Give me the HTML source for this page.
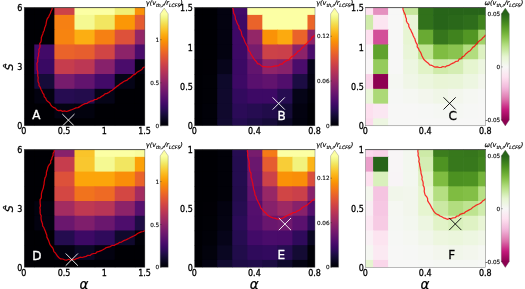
<!DOCTYPE html>
<html><head><meta charset="utf-8"><title>figure</title>
<style>html,body{margin:0;padding:0;background:#fff;}svg{display:block;filter:blur(0.3px)}text{font-family:"DejaVu Sans","Liberation Sans",sans-serif;fill:#000}.t{font-size:8.0px;stroke:#000;stroke-width:0.28px}.c{font-size:5.7px;stroke:#000;stroke-width:0.12px}.ti{font-size:6.5px;font-style:italic;stroke:#000;stroke-width:0.18px}.lab{font-size:12px}.ax{font-style:italic;stroke:#000;stroke-width:0.25px}</style></head><body>
<svg width="525" height="289" viewBox="0 0 525 289">
<rect width="525" height="289" fill="#fff"/>
<defs>
<linearGradient id="gi" x1="0" y1="1" x2="0" y2="0"><stop offset="0.0000" stop-color="#000004"/><stop offset="0.0417" stop-color="#050417"/><stop offset="0.0833" stop-color="#110a30"/><stop offset="0.1250" stop-color="#210c4a"/><stop offset="0.1667" stop-color="#320a5e"/><stop offset="0.2083" stop-color="#450a69"/><stop offset="0.2500" stop-color="#57106e"/><stop offset="0.2917" stop-color="#67166e"/><stop offset="0.3333" stop-color="#781c6d"/><stop offset="0.3750" stop-color="#8a226a"/><stop offset="0.4167" stop-color="#9a2865"/><stop offset="0.4583" stop-color="#ab2f5e"/><stop offset="0.5000" stop-color="#bc3754"/><stop offset="0.5417" stop-color="#ca404a"/><stop offset="0.5833" stop-color="#d84c3e"/><stop offset="0.6250" stop-color="#e45a31"/><stop offset="0.6667" stop-color="#ed6925"/><stop offset="0.7083" stop-color="#f57b17"/><stop offset="0.7500" stop-color="#f98e09"/><stop offset="0.7917" stop-color="#fca108"/><stop offset="0.8333" stop-color="#fbb61a"/><stop offset="0.8750" stop-color="#f9cb35"/><stop offset="0.9167" stop-color="#f4df53"/><stop offset="0.9583" stop-color="#f2f27d"/><stop offset="1.0000" stop-color="#fcffa4"/></linearGradient>
<linearGradient id="gp" x1="0" y1="1" x2="0" y2="0"><stop offset="0.0000" stop-color="#8e0152"/><stop offset="0.0417" stop-color="#a40b63"/><stop offset="0.0833" stop-color="#bb1675"/><stop offset="0.1250" stop-color="#cb3289"/><stop offset="0.1667" stop-color="#d5579d"/><stop offset="0.2083" stop-color="#df7cb1"/><stop offset="0.2500" stop-color="#e897c4"/><stop offset="0.2917" stop-color="#efb0d6"/><stop offset="0.3333" stop-color="#f5c4e1"/><stop offset="0.3750" stop-color="#fad6ea"/><stop offset="0.4167" stop-color="#fce4f0"/><stop offset="0.4583" stop-color="#f9eef4"/><stop offset="0.5000" stop-color="#f7f7f6"/><stop offset="0.5417" stop-color="#f0f6e7"/><stop offset="0.5833" stop-color="#e9f5d6"/><stop offset="0.6250" stop-color="#d9f0bc"/><stop offset="0.6667" stop-color="#c7e89f"/><stop offset="0.7083" stop-color="#b2dd7f"/><stop offset="0.7500" stop-color="#9acd61"/><stop offset="0.7917" stop-color="#83bf46"/><stop offset="0.8333" stop-color="#6dad36"/><stop offset="0.8750" stop-color="#589b28"/><stop offset="0.9167" stop-color="#468a20"/><stop offset="0.9583" stop-color="#36761c"/><stop offset="1.0000" stop-color="#276419"/></linearGradient>
<clipPath id="clA"><rect x="24.2" y="7.5" width="120.70" height="118.30"/></clipPath>
<clipPath id="clB"><rect x="194.6" y="7.5" width="120.40" height="118.30"/></clipPath>
<clipPath id="clC"><rect x="365.6" y="7.5" width="120.10" height="118.30"/></clipPath>
<clipPath id="clD"><rect x="24.2" y="149.5" width="120.70" height="117.80"/></clipPath>
<clipPath id="clE"><rect x="194.6" y="149.5" width="120.40" height="117.80"/></clipPath>
<clipPath id="clF"><rect x="365.6" y="149.5" width="120.10" height="117.80"/></clipPath>
</defs>
<g clip-path="url(#clA)">
<rect x="24.2" y="7.5" width="120.70" height="118.30" fill="#000004"/>
<rect x="14.14" y="0.11" width="20.82" height="15.49" fill="#000004"/>
<rect x="34.26" y="0.11" width="20.82" height="15.49" fill="#000004"/>
<rect x="54.38" y="0.11" width="20.82" height="15.49" fill="#cc4248"/>
<rect x="74.49" y="0.11" width="20.82" height="15.49" fill="#fcffa4"/>
<rect x="94.61" y="0.11" width="20.82" height="15.49" fill="#fcffa4"/>
<rect x="114.73" y="0.11" width="20.82" height="15.49" fill="#f1ef75"/>
<rect x="134.84" y="0.11" width="20.82" height="15.49" fill="#fa9207"/>
<rect x="14.14" y="14.89" width="20.82" height="15.49" fill="#000004"/>
<rect x="34.26" y="14.89" width="20.82" height="15.49" fill="#000004"/>
<rect x="54.38" y="14.89" width="20.82" height="15.49" fill="#f68013"/>
<rect x="74.49" y="14.89" width="20.82" height="15.49" fill="#f5f992"/>
<rect x="94.61" y="14.89" width="20.82" height="15.49" fill="#f2e661"/>
<rect x="114.73" y="14.89" width="20.82" height="15.49" fill="#fb9706"/>
<rect x="134.84" y="14.89" width="20.82" height="15.49" fill="#e55c30"/>
<rect x="14.14" y="29.68" width="20.82" height="15.49" fill="#000004"/>
<rect x="34.26" y="29.68" width="20.82" height="15.49" fill="#000004"/>
<rect x="54.38" y="29.68" width="20.82" height="15.49" fill="#f78410"/>
<rect x="74.49" y="29.68" width="20.82" height="15.49" fill="#fcae12"/>
<rect x="94.61" y="29.68" width="20.82" height="15.49" fill="#f68013"/>
<rect x="114.73" y="29.68" width="20.82" height="15.49" fill="#dd513a"/>
<rect x="134.84" y="29.68" width="20.82" height="15.49" fill="#932667"/>
<rect x="14.14" y="44.47" width="20.82" height="15.49" fill="#000004"/>
<rect x="34.26" y="44.47" width="20.82" height="15.49" fill="#420a68"/>
<rect x="54.38" y="44.47" width="20.82" height="15.49" fill="#ea632a"/>
<rect x="74.49" y="44.47" width="20.82" height="15.49" fill="#e75e2e"/>
<rect x="94.61" y="44.47" width="20.82" height="15.49" fill="#d04545"/>
<rect x="114.73" y="44.47" width="20.82" height="15.49" fill="#8c2369"/>
<rect x="134.84" y="44.47" width="20.82" height="15.49" fill="#4a0c6b"/>
<rect x="14.14" y="59.26" width="20.82" height="15.49" fill="#000004"/>
<rect x="34.26" y="59.26" width="20.82" height="15.49" fill="#390963"/>
<rect x="54.38" y="59.26" width="20.82" height="15.49" fill="#c63d4d"/>
<rect x="74.49" y="59.26" width="20.82" height="15.49" fill="#bc3754"/>
<rect x="94.61" y="59.26" width="20.82" height="15.49" fill="#87216b"/>
<rect x="114.73" y="59.26" width="20.82" height="15.49" fill="#4a0c6b"/>
<rect x="134.84" y="59.26" width="20.82" height="15.49" fill="#030210"/>
<rect x="14.14" y="74.04" width="20.82" height="15.49" fill="#000004"/>
<rect x="34.26" y="74.04" width="20.82" height="15.49" fill="#160b39"/>
<rect x="54.38" y="74.04" width="20.82" height="15.49" fill="#771c6d"/>
<rect x="74.49" y="74.04" width="20.82" height="15.49" fill="#62146e"/>
<rect x="94.61" y="74.04" width="20.82" height="15.49" fill="#420a68"/>
<rect x="114.73" y="74.04" width="20.82" height="15.49" fill="#050417"/>
<rect x="134.84" y="74.04" width="20.82" height="15.49" fill="#000004"/>
<rect x="14.14" y="88.83" width="20.82" height="15.49" fill="#000004"/>
<rect x="34.26" y="88.83" width="20.82" height="15.49" fill="#030210"/>
<rect x="54.38" y="88.83" width="20.82" height="15.49" fill="#260c51"/>
<rect x="74.49" y="88.83" width="20.82" height="15.49" fill="#230c4c"/>
<rect x="94.61" y="88.83" width="20.82" height="15.49" fill="#050417"/>
<rect x="114.73" y="88.83" width="20.82" height="15.49" fill="#000004"/>
<rect x="134.84" y="88.83" width="20.82" height="15.49" fill="#000004"/>
<rect x="14.14" y="103.62" width="20.82" height="15.49" fill="#000004"/>
<rect x="34.26" y="103.62" width="20.82" height="15.49" fill="#000004"/>
<rect x="54.38" y="103.62" width="20.82" height="15.49" fill="#040312"/>
<rect x="74.49" y="103.62" width="20.82" height="15.49" fill="#02020e"/>
<rect x="94.61" y="103.62" width="20.82" height="15.49" fill="#000004"/>
<rect x="114.73" y="103.62" width="20.82" height="15.49" fill="#000004"/>
<rect x="134.84" y="103.62" width="20.82" height="15.49" fill="#000004"/>
<rect x="14.14" y="118.41" width="20.82" height="15.49" fill="#000004"/>
<rect x="34.26" y="118.41" width="20.82" height="15.49" fill="#000004"/>
<rect x="54.38" y="118.41" width="20.82" height="15.49" fill="#000004"/>
<rect x="74.49" y="118.41" width="20.82" height="15.49" fill="#000004"/>
<rect x="94.61" y="118.41" width="20.82" height="15.49" fill="#000004"/>
<rect x="114.73" y="118.41" width="20.82" height="15.49" fill="#000004"/>
<rect x="134.84" y="118.41" width="20.82" height="15.49" fill="#000004"/>
<polyline points="52.3,7.4 52.0,9.5 51.0,11.2 50.4,13.2 49.4,15.0 48.7,16.8 47.4,18.5 46.7,20.3 46.3,22.3 46.0,24.4 45.4,26.3 44.6,28.1 44.3,30.2 43.3,32.0 42.8,33.9 42.0,35.8 41.3,37.7 41.3,39.8 40.9,41.8 39.7,43.6 40.1,45.7 39.8,47.7 38.8,49.5 39.1,51.6 38.5,53.6 38.6,55.6 37.9,57.6 37.7,59.6 37.8,61.6 36.9,63.6 37.1,65.6 37.1,67.6 37.1,69.6 37.7,71.6 37.8,73.6 37.7,75.7 38.2,77.6 38.0,79.7 38.1,81.7 39.0,83.6 39.0,85.7 40.3,87.4 40.9,89.3 41.9,91.0 42.6,92.9 43.9,94.5 44.2,96.7 45.7,98.1 46.4,100.1 47.8,101.6 49.5,102.7 50.6,104.5 51.8,106.1 53.3,107.4 55.3,108.1 56.6,109.7 58.4,110.6 60.6,110.3 62.4,111.4 64.5,110.8 66.5,111.5 68.5,110.8 70.4,110.2 72.3,109.5 74.1,108.7 75.9,107.9 78.0,107.6 79.8,106.6 81.5,105.4 83.2,104.5 85.0,103.6 87.1,103.3 88.8,102.1 90.6,101.2 92.7,100.9 94.3,99.7 96.5,99.5 98.1,98.2 100.1,97.6 101.7,96.3 103.5,95.4 104.9,93.9 107.0,93.4 108.8,92.5 110.3,91.2 112.2,90.3 113.7,89.0 115.2,87.7 116.8,86.4 118.5,85.4 120.0,84.0 121.8,82.9 123.4,81.7 125.2,80.8 127.2,80.1 128.6,78.6 130.4,77.7 131.9,76.3 133.4,74.9 135.3,74.1 136.7,72.6 138.4,71.5 140.2,70.5 141.9,69.5 143.1,67.7 145.0,66.9" fill="none" stroke="#ff0008" stroke-opacity="0.82" stroke-width="1.25" stroke-linejoin="round"/>
<path d="M62.3 114.0L74.5 126.2M62.3 126.2L74.5 114.0" stroke="#fff" stroke-width="0.9" fill="none"/>
</g>
<rect x="24.2" y="7.5" width="120.70" height="118.30" fill="none" stroke="#666" stroke-width="0.45"/>
<path d="M24.0 7.6H145.1" stroke="#444" stroke-width="0.8" fill="none"/>
<text class="lab" x="36.4" y="118.8" text-anchor="middle" style="fill:#fff;stroke:#fff;stroke-width:0.3px">A</text>
<g clip-path="url(#clB)">
<rect x="194.6" y="7.5" width="120.40" height="118.30" fill="#000004"/>
<rect x="187.07" y="0.11" width="15.75" height="15.49" fill="#000004"/>
<rect x="202.12" y="0.11" width="15.75" height="15.49" fill="#000004"/>
<rect x="217.18" y="0.11" width="15.75" height="15.49" fill="#030210"/>
<rect x="232.22" y="0.11" width="15.75" height="15.49" fill="#420a68"/>
<rect x="247.28" y="0.11" width="15.75" height="15.49" fill="#fcffa4"/>
<rect x="262.32" y="0.11" width="15.75" height="15.49" fill="#fcffa4"/>
<rect x="277.38" y="0.11" width="15.75" height="15.49" fill="#fcffa4"/>
<rect x="292.43" y="0.11" width="15.75" height="15.49" fill="#fcffa4"/>
<rect x="307.48" y="0.11" width="15.75" height="15.49" fill="#fcffa4"/>
<rect x="187.07" y="14.89" width="15.75" height="15.49" fill="#000004"/>
<rect x="202.12" y="14.89" width="15.75" height="15.49" fill="#000004"/>
<rect x="217.18" y="14.89" width="15.75" height="15.49" fill="#030210"/>
<rect x="232.22" y="14.89" width="15.75" height="15.49" fill="#3d0965"/>
<rect x="247.28" y="14.89" width="15.75" height="15.49" fill="#ea632a"/>
<rect x="262.32" y="14.89" width="15.75" height="15.49" fill="#fcffa4"/>
<rect x="277.38" y="14.89" width="15.75" height="15.49" fill="#fcffa4"/>
<rect x="292.43" y="14.89" width="15.75" height="15.49" fill="#fcffa4"/>
<rect x="307.48" y="14.89" width="15.75" height="15.49" fill="#eb6628"/>
<rect x="187.07" y="29.68" width="15.75" height="15.49" fill="#000004"/>
<rect x="202.12" y="29.68" width="15.75" height="15.49" fill="#000004"/>
<rect x="217.18" y="29.68" width="15.75" height="15.49" fill="#030210"/>
<rect x="232.22" y="29.68" width="15.75" height="15.49" fill="#3e0966"/>
<rect x="247.28" y="29.68" width="15.75" height="15.49" fill="#932667"/>
<rect x="262.32" y="29.68" width="15.75" height="15.49" fill="#fa9207"/>
<rect x="277.38" y="29.68" width="15.75" height="15.49" fill="#fcaa0f"/>
<rect x="292.43" y="29.68" width="15.75" height="15.49" fill="#ea632a"/>
<rect x="307.48" y="29.68" width="15.75" height="15.49" fill="#8c2369"/>
<rect x="187.07" y="44.47" width="15.75" height="15.49" fill="#000004"/>
<rect x="202.12" y="44.47" width="15.75" height="15.49" fill="#000004"/>
<rect x="217.18" y="44.47" width="15.75" height="15.49" fill="#030210"/>
<rect x="232.22" y="44.47" width="15.75" height="15.49" fill="#3d0965"/>
<rect x="247.28" y="44.47" width="15.75" height="15.49" fill="#771c6d"/>
<rect x="262.32" y="44.47" width="15.75" height="15.49" fill="#cc4248"/>
<rect x="277.38" y="44.47" width="15.75" height="15.49" fill="#ca404a"/>
<rect x="292.43" y="44.47" width="15.75" height="15.49" fill="#8c2369"/>
<rect x="307.48" y="44.47" width="15.75" height="15.49" fill="#4a0c6b"/>
<rect x="187.07" y="59.26" width="15.75" height="15.49" fill="#000004"/>
<rect x="202.12" y="59.26" width="15.75" height="15.49" fill="#010005"/>
<rect x="217.18" y="59.26" width="15.75" height="15.49" fill="#07051b"/>
<rect x="232.22" y="59.26" width="15.75" height="15.49" fill="#3b0964"/>
<rect x="247.28" y="59.26" width="15.75" height="15.49" fill="#62146e"/>
<rect x="262.32" y="59.26" width="15.75" height="15.49" fill="#8f2469"/>
<rect x="277.38" y="59.26" width="15.75" height="15.49" fill="#87216b"/>
<rect x="292.43" y="59.26" width="15.75" height="15.49" fill="#4a0c6b"/>
<rect x="307.48" y="59.26" width="15.75" height="15.49" fill="#060419"/>
<rect x="187.07" y="74.04" width="15.75" height="15.49" fill="#000004"/>
<rect x="202.12" y="74.04" width="15.75" height="15.49" fill="#010106"/>
<rect x="217.18" y="74.04" width="15.75" height="15.49" fill="#0e092b"/>
<rect x="232.22" y="74.04" width="15.75" height="15.49" fill="#3d0965"/>
<rect x="247.28" y="74.04" width="15.75" height="15.49" fill="#59106e"/>
<rect x="262.32" y="74.04" width="15.75" height="15.49" fill="#61136e"/>
<rect x="277.38" y="74.04" width="15.75" height="15.49" fill="#510e6c"/>
<rect x="292.43" y="74.04" width="15.75" height="15.49" fill="#1c0c43"/>
<rect x="307.48" y="74.04" width="15.75" height="15.49" fill="#040312"/>
<rect x="187.07" y="88.83" width="15.75" height="15.49" fill="#000004"/>
<rect x="202.12" y="88.83" width="15.75" height="15.49" fill="#010106"/>
<rect x="217.18" y="88.83" width="15.75" height="15.49" fill="#10092d"/>
<rect x="232.22" y="88.83" width="15.75" height="15.49" fill="#320a5e"/>
<rect x="247.28" y="88.83" width="15.75" height="15.49" fill="#3d0965"/>
<rect x="262.32" y="88.83" width="15.75" height="15.49" fill="#3d0965"/>
<rect x="277.38" y="88.83" width="15.75" height="15.49" fill="#260c51"/>
<rect x="292.43" y="88.83" width="15.75" height="15.49" fill="#050417"/>
<rect x="307.48" y="88.83" width="15.75" height="15.49" fill="#010108"/>
<rect x="187.07" y="103.62" width="15.75" height="15.49" fill="#000004"/>
<rect x="202.12" y="103.62" width="15.75" height="15.49" fill="#010108"/>
<rect x="217.18" y="103.62" width="15.75" height="15.49" fill="#10092d"/>
<rect x="232.22" y="103.62" width="15.75" height="15.49" fill="#2b0b57"/>
<rect x="247.28" y="103.62" width="15.75" height="15.49" fill="#260c51"/>
<rect x="262.32" y="103.62" width="15.75" height="15.49" fill="#210c4a"/>
<rect x="277.38" y="103.62" width="15.75" height="15.49" fill="#150b37"/>
<rect x="292.43" y="103.62" width="15.75" height="15.49" fill="#030210"/>
<rect x="307.48" y="103.62" width="15.75" height="15.49" fill="#000004"/>
<rect x="187.07" y="118.41" width="15.75" height="15.49" fill="#000004"/>
<rect x="202.12" y="118.41" width="15.75" height="15.49" fill="#010108"/>
<rect x="217.18" y="118.41" width="15.75" height="15.49" fill="#110a30"/>
<rect x="232.22" y="118.41" width="15.75" height="15.49" fill="#240c4f"/>
<rect x="247.28" y="118.41" width="15.75" height="15.49" fill="#1c0c43"/>
<rect x="262.32" y="118.41" width="15.75" height="15.49" fill="#160b39"/>
<rect x="277.38" y="118.41" width="15.75" height="15.49" fill="#0b0724"/>
<rect x="292.43" y="118.41" width="15.75" height="15.49" fill="#02020e"/>
<rect x="307.48" y="118.41" width="15.75" height="15.49" fill="#000004"/>
<polyline points="232.3,7.4 233.2,9.2 233.4,11.2 233.7,13.3 234.7,15.0 235.3,16.9 235.4,19.0 236.3,20.8 237.0,22.7 237.8,24.5 238.9,26.2 239.0,28.4 240.3,30.0 241.3,31.7 241.5,33.8 242.1,35.8 243.2,37.5 244.0,39.3 244.7,41.2 245.5,43.0 246.5,44.8 247.5,46.5 248.2,48.4 248.4,50.5 250.0,51.9 250.7,53.8 251.8,55.5 252.8,57.2 253.9,58.8 255.1,60.3 256.5,61.7 257.5,63.6 259.5,64.1 261.0,65.4 262.7,66.6 264.8,66.5 266.7,67.0 268.7,66.8 270.6,67.0 272.6,66.6 274.5,66.1 276.5,65.9 278.5,65.7 280.0,64.1 282.2,64.1 283.6,62.4 285.3,61.4 287.0,60.4 289.1,59.9 290.3,58.1 291.7,56.7 293.7,56.0 295.0,54.4 296.6,53.2 297.7,51.4 299.6,50.6 301.0,49.1 302.3,47.5 303.9,46.4 305.1,44.7 306.8,43.6 307.9,41.9 309.6,40.7 311.1,39.4 311.9,37.4 313.7,36.3 315.0,34.8" fill="none" stroke="#ff0008" stroke-opacity="0.82" stroke-width="1.25" stroke-linejoin="round"/>
<path d="M272.6 97.4L284.8 109.6M272.6 109.6L284.8 97.4" stroke="#fff" stroke-width="0.9" fill="none"/>
</g>
<rect x="194.6" y="7.5" width="120.40" height="118.30" fill="none" stroke="#666" stroke-width="0.45"/>
<path d="M194.4 7.6H315.2" stroke="#444" stroke-width="0.8" fill="none"/>
<text class="lab" x="281.7" y="120.3" text-anchor="middle" style="fill:#fff;stroke:#fff;stroke-width:0.3px">B</text>
<g clip-path="url(#clC)">
<rect x="365.6" y="7.5" width="120.10" height="118.30" fill="#f7f7f6"/>
<rect x="358.09" y="0.11" width="15.71" height="15.49" fill="#fde2f0"/>
<rect x="373.11" y="0.11" width="15.71" height="15.49" fill="#e590bf"/>
<rect x="388.12" y="0.11" width="15.71" height="15.49" fill="#f7f7f6"/>
<rect x="403.13" y="0.11" width="15.71" height="15.49" fill="#c6e79c"/>
<rect x="418.14" y="0.11" width="15.71" height="15.49" fill="#31711b"/>
<rect x="433.16" y="0.11" width="15.71" height="15.49" fill="#276419"/>
<rect x="448.17" y="0.11" width="15.71" height="15.49" fill="#276419"/>
<rect x="463.18" y="0.11" width="15.71" height="15.49" fill="#276419"/>
<rect x="478.19" y="0.11" width="15.71" height="15.49" fill="#276419"/>
<rect x="358.09" y="14.89" width="15.71" height="15.49" fill="#cfebaa"/>
<rect x="373.11" y="14.89" width="15.71" height="15.49" fill="#fce5f1"/>
<rect x="388.12" y="14.89" width="15.71" height="15.49" fill="#f7f7f6"/>
<rect x="403.13" y="14.89" width="15.71" height="15.49" fill="#e9f5d8"/>
<rect x="418.14" y="14.89" width="15.71" height="15.49" fill="#31711b"/>
<rect x="433.16" y="14.89" width="15.71" height="15.49" fill="#276419"/>
<rect x="448.17" y="14.89" width="15.71" height="15.49" fill="#2a681a"/>
<rect x="463.18" y="14.89" width="15.71" height="15.49" fill="#2e6d1b"/>
<rect x="478.19" y="14.89" width="15.71" height="15.49" fill="#40831e"/>
<rect x="358.09" y="29.68" width="15.71" height="15.49" fill="#fde0ef"/>
<rect x="373.11" y="29.68" width="15.71" height="15.49" fill="#d34f99"/>
<rect x="388.12" y="29.68" width="15.71" height="15.49" fill="#f7f7f6"/>
<rect x="403.13" y="29.68" width="15.71" height="15.49" fill="#e7f5d3"/>
<rect x="418.14" y="29.68" width="15.71" height="15.49" fill="#69aa33"/>
<rect x="433.16" y="29.68" width="15.71" height="15.49" fill="#36761c"/>
<rect x="448.17" y="29.68" width="15.71" height="15.49" fill="#40831e"/>
<rect x="463.18" y="29.68" width="15.71" height="15.49" fill="#529624"/>
<rect x="478.19" y="29.68" width="15.71" height="15.49" fill="#a1d26a"/>
<rect x="358.09" y="44.47" width="15.71" height="15.49" fill="#f8f2f5"/>
<rect x="373.11" y="44.47" width="15.71" height="15.49" fill="#60a22d"/>
<rect x="388.12" y="44.47" width="15.71" height="15.49" fill="#f7f7f6"/>
<rect x="403.13" y="44.47" width="15.71" height="15.49" fill="#e9f5d8"/>
<rect x="418.14" y="44.47" width="15.71" height="15.49" fill="#c0e593"/>
<rect x="433.16" y="44.47" width="15.71" height="15.49" fill="#7fbc41"/>
<rect x="448.17" y="44.47" width="15.71" height="15.49" fill="#8ac34f"/>
<rect x="463.18" y="44.47" width="15.71" height="15.49" fill="#b2dd7f"/>
<rect x="478.19" y="44.47" width="15.71" height="15.49" fill="#ddf1c1"/>
<rect x="358.09" y="59.26" width="15.71" height="15.49" fill="#f8f5f6"/>
<rect x="373.11" y="59.26" width="15.71" height="15.49" fill="#95cb5c"/>
<rect x="388.12" y="59.26" width="15.71" height="15.49" fill="#f7f7f6"/>
<rect x="403.13" y="59.26" width="15.71" height="15.49" fill="#edf6e1"/>
<rect x="418.14" y="59.26" width="15.71" height="15.49" fill="#e1f3c7"/>
<rect x="433.16" y="59.26" width="15.71" height="15.49" fill="#cfebaa"/>
<rect x="448.17" y="59.26" width="15.71" height="15.49" fill="#d4edb3"/>
<rect x="463.18" y="59.26" width="15.71" height="15.49" fill="#e6f5d0"/>
<rect x="478.19" y="59.26" width="15.71" height="15.49" fill="#edf6e1"/>
<rect x="358.09" y="74.04" width="15.71" height="15.49" fill="#f9d3e8"/>
<rect x="373.11" y="74.04" width="15.71" height="15.49" fill="#8e0152"/>
<rect x="388.12" y="74.04" width="15.71" height="15.49" fill="#f5f7f2"/>
<rect x="403.13" y="74.04" width="15.71" height="15.49" fill="#f0f6e7"/>
<rect x="418.14" y="74.04" width="15.71" height="15.49" fill="#ecf6de"/>
<rect x="433.16" y="74.04" width="15.71" height="15.49" fill="#e9f5d6"/>
<rect x="448.17" y="74.04" width="15.71" height="15.49" fill="#e9f5d8"/>
<rect x="463.18" y="74.04" width="15.71" height="15.49" fill="#edf6e1"/>
<rect x="478.19" y="74.04" width="15.71" height="15.49" fill="#f3f6ed"/>
<rect x="358.09" y="88.83" width="15.71" height="15.49" fill="#e9f5d8"/>
<rect x="373.11" y="88.83" width="15.71" height="15.49" fill="#acd977"/>
<rect x="388.12" y="88.83" width="15.71" height="15.49" fill="#f6f7f5"/>
<rect x="403.13" y="88.83" width="15.71" height="15.49" fill="#f5f7f2"/>
<rect x="418.14" y="88.83" width="15.71" height="15.49" fill="#f3f6ed"/>
<rect x="433.16" y="88.83" width="15.71" height="15.49" fill="#f0f6e7"/>
<rect x="448.17" y="88.83" width="15.71" height="15.49" fill="#f3f6ed"/>
<rect x="463.18" y="88.83" width="15.71" height="15.49" fill="#f5f7f2"/>
<rect x="478.19" y="88.83" width="15.71" height="15.49" fill="#f6f7f5"/>
<rect x="358.09" y="103.62" width="15.71" height="15.49" fill="#fde0ef"/>
<rect x="373.11" y="103.62" width="15.71" height="15.49" fill="#fbe7f2"/>
<rect x="388.12" y="103.62" width="15.71" height="15.49" fill="#f7f7f6"/>
<rect x="403.13" y="103.62" width="15.71" height="15.49" fill="#f7f7f6"/>
<rect x="418.14" y="103.62" width="15.71" height="15.49" fill="#f6f7f5"/>
<rect x="433.16" y="103.62" width="15.71" height="15.49" fill="#f5f7f3"/>
<rect x="448.17" y="103.62" width="15.71" height="15.49" fill="#f5f7f3"/>
<rect x="463.18" y="103.62" width="15.71" height="15.49" fill="#f6f7f5"/>
<rect x="478.19" y="103.62" width="15.71" height="15.49" fill="#f7f7f6"/>
<rect x="358.09" y="118.41" width="15.71" height="15.49" fill="#fcdbed"/>
<rect x="373.11" y="118.41" width="15.71" height="15.49" fill="#edf6e1"/>
<rect x="388.12" y="118.41" width="15.71" height="15.49" fill="#f7f7f6"/>
<rect x="403.13" y="118.41" width="15.71" height="15.49" fill="#f7f7f6"/>
<rect x="418.14" y="118.41" width="15.71" height="15.49" fill="#f7f7f6"/>
<rect x="433.16" y="118.41" width="15.71" height="15.49" fill="#f7f7f6"/>
<rect x="448.17" y="118.41" width="15.71" height="15.49" fill="#f7f7f6"/>
<rect x="463.18" y="118.41" width="15.71" height="15.49" fill="#f7f7f6"/>
<rect x="478.19" y="118.41" width="15.71" height="15.49" fill="#f7f7f6"/>
<polyline points="402.8,7.4 403.0,9.4 403.6,11.3 404.5,13.2 405.3,15.0 405.6,17.0 406.4,18.8 406.4,21.0 407.3,22.8 408.7,24.4 408.8,26.5 409.7,28.3 410.8,30.0 411.5,31.9 412.5,33.6 413.1,35.5 414.0,37.3 415.0,39.1 415.4,41.1 416.2,42.9 417.3,44.7 417.2,46.9 418.5,48.5 419.2,50.3 420.4,52.0 421.2,53.8 421.9,55.7 422.8,57.5 423.7,59.3 425.2,60.7 426.7,62.0 428.3,63.2 429.6,64.8 431.6,65.3 433.3,66.2 435.1,67.2 437.2,66.8 439.2,67.5 441.2,67.4 443.0,66.5 445.2,67.0 446.9,65.8 448.9,65.4 450.6,64.3 452.4,63.4 454.2,62.6 455.8,61.4 458.0,61.1 459.1,59.2 461.2,58.6 462.3,56.9 464.2,56.0 465.4,54.3 466.9,53.0 468.4,51.6 470.2,50.7 471.5,49.1 472.7,47.4 474.4,46.4 475.7,44.8 477.0,43.3 478.3,41.8 479.9,40.6 481.6,39.4 482.8,37.8 484.5,36.6 485.5,34.8" fill="none" stroke="#ff0008" stroke-opacity="0.82" stroke-width="1.25" stroke-linejoin="round"/>
<path d="M443.5 97.3L455.7 109.5M443.5 109.5L455.7 97.3" stroke="#000" stroke-width="0.9" fill="none"/>
</g>
<rect x="365.6" y="7.5" width="120.10" height="118.30" fill="none" stroke="#666" stroke-width="0.45"/>
<path d="M365.40000000000003 7.6H485.9" stroke="#444" stroke-width="0.8" fill="none"/>
<text class="lab" x="452.6" y="120.1" text-anchor="middle" style="fill:#000;stroke:#000;stroke-width:0.3px">C</text>
<g clip-path="url(#clD)">
<rect x="24.2" y="149.5" width="120.70" height="117.80" fill="#000004"/>
<rect x="14.14" y="142.14" width="20.82" height="15.43" fill="#000004"/>
<rect x="34.26" y="142.14" width="20.82" height="15.43" fill="#000004"/>
<rect x="54.38" y="142.14" width="20.82" height="15.43" fill="#87216b"/>
<rect x="74.49" y="142.14" width="20.82" height="15.43" fill="#fac42a"/>
<rect x="94.61" y="142.14" width="20.82" height="15.43" fill="#fcffa4"/>
<rect x="114.73" y="142.14" width="20.82" height="15.43" fill="#fcffa4"/>
<rect x="134.84" y="142.14" width="20.82" height="15.43" fill="#f9fc9d"/>
<rect x="14.14" y="156.86" width="20.82" height="15.43" fill="#000004"/>
<rect x="34.26" y="156.86" width="20.82" height="15.43" fill="#000004"/>
<rect x="54.38" y="156.86" width="20.82" height="15.43" fill="#c63d4d"/>
<rect x="74.49" y="156.86" width="20.82" height="15.43" fill="#f9c72f"/>
<rect x="94.61" y="156.86" width="20.82" height="15.43" fill="#f5f992"/>
<rect x="114.73" y="156.86" width="20.82" height="15.43" fill="#f2e661"/>
<rect x="134.84" y="156.86" width="20.82" height="15.43" fill="#fca108"/>
<rect x="14.14" y="171.59" width="20.82" height="15.43" fill="#000004"/>
<rect x="34.26" y="171.59" width="20.82" height="15.43" fill="#000004"/>
<rect x="54.38" y="171.59" width="20.82" height="15.43" fill="#dd513a"/>
<rect x="74.49" y="171.59" width="20.82" height="15.43" fill="#fca50a"/>
<rect x="94.61" y="171.59" width="20.82" height="15.43" fill="#fca50a"/>
<rect x="114.73" y="171.59" width="20.82" height="15.43" fill="#f98e09"/>
<rect x="134.84" y="171.59" width="20.82" height="15.43" fill="#ea632a"/>
<rect x="14.14" y="186.31" width="20.82" height="15.43" fill="#000004"/>
<rect x="34.26" y="186.31" width="20.82" height="15.43" fill="#000004"/>
<rect x="54.38" y="186.31" width="20.82" height="15.43" fill="#d34743"/>
<rect x="74.49" y="186.31" width="20.82" height="15.43" fill="#f1731d"/>
<rect x="94.61" y="186.31" width="20.82" height="15.43" fill="#ee6a24"/>
<rect x="114.73" y="186.31" width="20.82" height="15.43" fill="#d34743"/>
<rect x="134.84" y="186.31" width="20.82" height="15.43" fill="#a32c61"/>
<rect x="14.14" y="201.04" width="20.82" height="15.43" fill="#000004"/>
<rect x="34.26" y="201.04" width="20.82" height="15.43" fill="#02020e"/>
<rect x="54.38" y="201.04" width="20.82" height="15.43" fill="#a32c61"/>
<rect x="74.49" y="201.04" width="20.82" height="15.43" fill="#bf3952"/>
<rect x="94.61" y="201.04" width="20.82" height="15.43" fill="#b73557"/>
<rect x="114.73" y="201.04" width="20.82" height="15.43" fill="#8c2369"/>
<rect x="134.84" y="201.04" width="20.82" height="15.43" fill="#57106e"/>
<rect x="14.14" y="215.76" width="20.82" height="15.43" fill="#000004"/>
<rect x="34.26" y="215.76" width="20.82" height="15.43" fill="#030210"/>
<rect x="54.38" y="215.76" width="20.82" height="15.43" fill="#6a176e"/>
<rect x="74.49" y="215.76" width="20.82" height="15.43" fill="#7f1e6c"/>
<rect x="94.61" y="215.76" width="20.82" height="15.43" fill="#6a176e"/>
<rect x="114.73" y="215.76" width="20.82" height="15.43" fill="#4d0d6c"/>
<rect x="134.84" y="215.76" width="20.82" height="15.43" fill="#1e0c45"/>
<rect x="14.14" y="230.49" width="20.82" height="15.43" fill="#000004"/>
<rect x="34.26" y="230.49" width="20.82" height="15.43" fill="#000004"/>
<rect x="54.38" y="230.49" width="20.82" height="15.43" fill="#240c4f"/>
<rect x="74.49" y="230.49" width="20.82" height="15.43" fill="#3d0965"/>
<rect x="94.61" y="230.49" width="20.82" height="15.43" fill="#2f0a5b"/>
<rect x="114.73" y="230.49" width="20.82" height="15.43" fill="#10092d"/>
<rect x="134.84" y="230.49" width="20.82" height="15.43" fill="#010108"/>
<rect x="14.14" y="245.21" width="20.82" height="15.43" fill="#000004"/>
<rect x="34.26" y="245.21" width="20.82" height="15.43" fill="#000004"/>
<rect x="54.38" y="245.21" width="20.82" height="15.43" fill="#030210"/>
<rect x="74.49" y="245.21" width="20.82" height="15.43" fill="#0b0724"/>
<rect x="94.61" y="245.21" width="20.82" height="15.43" fill="#030210"/>
<rect x="114.73" y="245.21" width="20.82" height="15.43" fill="#000004"/>
<rect x="134.84" y="245.21" width="20.82" height="15.43" fill="#000004"/>
<rect x="14.14" y="259.94" width="20.82" height="15.43" fill="#000004"/>
<rect x="34.26" y="259.94" width="20.82" height="15.43" fill="#000004"/>
<rect x="54.38" y="259.94" width="20.82" height="15.43" fill="#000004"/>
<rect x="74.49" y="259.94" width="20.82" height="15.43" fill="#000004"/>
<rect x="94.61" y="259.94" width="20.82" height="15.43" fill="#000004"/>
<rect x="114.73" y="259.94" width="20.82" height="15.43" fill="#000004"/>
<rect x="134.84" y="259.94" width="20.82" height="15.43" fill="#000004"/>
<polyline points="54.2,149.4 54.2,151.5 53.1,153.3 53.1,155.4 52.1,157.2 51.8,159.2 50.7,160.9 50.7,163.1 49.3,164.7 48.2,166.4 47.6,168.3 47.1,170.3 46.4,172.2 46.4,174.3 45.9,176.2 44.9,178.1 44.6,180.0 44.2,182.0 44.1,184.1 43.6,186.0 43.3,188.0 42.6,189.9 41.9,191.8 41.4,193.8 41.4,195.8 41.3,197.8 40.1,199.7 40.1,201.8 40.2,203.8 40.5,205.8 39.9,207.8 40.2,209.8 40.1,211.9 40.3,213.9 41.2,215.8 41.0,217.8 41.2,219.8 41.7,221.8 42.5,223.7 42.6,225.8 43.8,227.5 44.5,229.4 45.4,231.2 45.9,233.1 46.8,235.0 46.9,237.1 47.8,238.9 48.7,240.7 49.3,242.6 50.0,244.6 51.2,246.2 52.6,247.7 53.4,249.6 53.9,251.6 55.4,253.0 56.5,254.6 57.6,256.3 59.0,257.7 60.7,258.9 62.7,259.0 64.5,259.8 66.6,260.2 68.6,259.3 70.6,260.2 72.6,259.2 74.6,259.7 76.3,258.6 78.2,258.1 80.0,257.2 82.2,257.5 84.1,256.8 86.1,256.4 87.9,255.3 90.0,255.5 91.6,254.1 93.6,253.5 95.7,253.3 97.2,251.8 99.2,251.4 101.1,250.7 102.9,249.8 104.7,248.8 106.3,247.6 108.3,247.1 110.3,246.6 112.0,245.4 114.2,245.5 115.9,244.3 117.8,243.7 119.4,242.4 121.5,242.1 123.2,240.9 125.1,240.2 126.9,239.4 128.7,238.5 130.5,237.5 132.3,236.6 134.1,235.8 135.9,234.9 137.5,233.5 139.4,232.7 141.2,231.9 143.2,231.5 145.0,230.5" fill="none" stroke="#ff0008" stroke-opacity="0.82" stroke-width="1.25" stroke-linejoin="round"/>
<path d="M65.7 253.5L77.9 265.7M65.7 265.7L77.9 253.5" stroke="#fff" stroke-width="0.9" fill="none"/>
</g>
<rect x="24.2" y="149.5" width="120.70" height="117.80" fill="none" stroke="#666" stroke-width="0.45"/>
<path d="M24.0 149.6H145.1" stroke="#444" stroke-width="0.8" fill="none"/>
<text class="lab" x="36.8" y="260.2" text-anchor="middle" style="fill:#fff;stroke:#fff;stroke-width:0.3px">D</text>
<g clip-path="url(#clE)">
<rect x="194.6" y="149.5" width="120.40" height="117.80" fill="#000004"/>
<rect x="187.07" y="142.14" width="15.75" height="15.43" fill="#000004"/>
<rect x="202.12" y="142.14" width="15.75" height="15.43" fill="#000004"/>
<rect x="217.18" y="142.14" width="15.75" height="15.43" fill="#010108"/>
<rect x="232.22" y="142.14" width="15.75" height="15.43" fill="#260c51"/>
<rect x="247.28" y="142.14" width="15.75" height="15.43" fill="#771c6d"/>
<rect x="262.32" y="142.14" width="15.75" height="15.43" fill="#f57b17"/>
<rect x="277.38" y="142.14" width="15.75" height="15.43" fill="#fcffa4"/>
<rect x="292.43" y="142.14" width="15.75" height="15.43" fill="#fcffa4"/>
<rect x="307.48" y="142.14" width="15.75" height="15.43" fill="#fcffa4"/>
<rect x="187.07" y="156.86" width="15.75" height="15.43" fill="#000004"/>
<rect x="202.12" y="156.86" width="15.75" height="15.43" fill="#000004"/>
<rect x="217.18" y="156.86" width="15.75" height="15.43" fill="#010108"/>
<rect x="232.22" y="156.86" width="15.75" height="15.43" fill="#240c4f"/>
<rect x="247.28" y="156.86" width="15.75" height="15.43" fill="#6a176e"/>
<rect x="262.32" y="156.86" width="15.75" height="15.43" fill="#e55c30"/>
<rect x="277.38" y="156.86" width="15.75" height="15.43" fill="#f8cd37"/>
<rect x="292.43" y="156.86" width="15.75" height="15.43" fill="#f2f27d"/>
<rect x="307.48" y="156.86" width="15.75" height="15.43" fill="#fcb418"/>
<rect x="187.07" y="171.59" width="15.75" height="15.43" fill="#000004"/>
<rect x="202.12" y="171.59" width="15.75" height="15.43" fill="#000004"/>
<rect x="217.18" y="171.59" width="15.75" height="15.43" fill="#010108"/>
<rect x="232.22" y="171.59" width="15.75" height="15.43" fill="#240c4f"/>
<rect x="247.28" y="171.59" width="15.75" height="15.43" fill="#67166e"/>
<rect x="262.32" y="171.59" width="15.75" height="15.43" fill="#cc4248"/>
<rect x="277.38" y="171.59" width="15.75" height="15.43" fill="#fa9207"/>
<rect x="292.43" y="171.59" width="15.75" height="15.43" fill="#f98e09"/>
<rect x="307.48" y="171.59" width="15.75" height="15.43" fill="#da4e3c"/>
<rect x="187.07" y="186.31" width="15.75" height="15.43" fill="#000004"/>
<rect x="202.12" y="186.31" width="15.75" height="15.43" fill="#000004"/>
<rect x="217.18" y="186.31" width="15.75" height="15.43" fill="#010108"/>
<rect x="232.22" y="186.31" width="15.75" height="15.43" fill="#230c4c"/>
<rect x="247.28" y="186.31" width="15.75" height="15.43" fill="#5f136e"/>
<rect x="262.32" y="186.31" width="15.75" height="15.43" fill="#972766"/>
<rect x="277.38" y="186.31" width="15.75" height="15.43" fill="#d04545"/>
<rect x="292.43" y="186.31" width="15.75" height="15.43" fill="#ca404a"/>
<rect x="307.48" y="186.31" width="15.75" height="15.43" fill="#87216b"/>
<rect x="187.07" y="201.04" width="15.75" height="15.43" fill="#000004"/>
<rect x="202.12" y="201.04" width="15.75" height="15.43" fill="#010005"/>
<rect x="217.18" y="201.04" width="15.75" height="15.43" fill="#030210"/>
<rect x="232.22" y="201.04" width="15.75" height="15.43" fill="#260c51"/>
<rect x="247.28" y="201.04" width="15.75" height="15.43" fill="#540f6d"/>
<rect x="262.32" y="201.04" width="15.75" height="15.43" fill="#87216b"/>
<rect x="277.38" y="201.04" width="15.75" height="15.43" fill="#9d2964"/>
<rect x="292.43" y="201.04" width="15.75" height="15.43" fill="#87216b"/>
<rect x="307.48" y="201.04" width="15.75" height="15.43" fill="#540f6d"/>
<rect x="187.07" y="215.76" width="15.75" height="15.43" fill="#000004"/>
<rect x="202.12" y="215.76" width="15.75" height="15.43" fill="#010106"/>
<rect x="217.18" y="215.76" width="15.75" height="15.43" fill="#040312"/>
<rect x="232.22" y="215.76" width="15.75" height="15.43" fill="#2b0b57"/>
<rect x="247.28" y="215.76" width="15.75" height="15.43" fill="#510e6c"/>
<rect x="262.32" y="215.76" width="15.75" height="15.43" fill="#69166e"/>
<rect x="277.38" y="215.76" width="15.75" height="15.43" fill="#6f196e"/>
<rect x="292.43" y="215.76" width="15.75" height="15.43" fill="#5a116e"/>
<rect x="307.48" y="215.76" width="15.75" height="15.43" fill="#2b0b57"/>
<rect x="187.07" y="230.49" width="15.75" height="15.43" fill="#000004"/>
<rect x="202.12" y="230.49" width="15.75" height="15.43" fill="#010108"/>
<rect x="217.18" y="230.49" width="15.75" height="15.43" fill="#060419"/>
<rect x="232.22" y="230.49" width="15.75" height="15.43" fill="#260c51"/>
<rect x="247.28" y="230.49" width="15.75" height="15.43" fill="#420a68"/>
<rect x="262.32" y="230.49" width="15.75" height="15.43" fill="#4a0c6b"/>
<rect x="277.38" y="230.49" width="15.75" height="15.43" fill="#490b6a"/>
<rect x="292.43" y="230.49" width="15.75" height="15.43" fill="#2f0a5b"/>
<rect x="307.48" y="230.49" width="15.75" height="15.43" fill="#0a0722"/>
<rect x="187.07" y="245.21" width="15.75" height="15.43" fill="#000004"/>
<rect x="202.12" y="245.21" width="15.75" height="15.43" fill="#02020c"/>
<rect x="217.18" y="245.21" width="15.75" height="15.43" fill="#0a0722"/>
<rect x="232.22" y="245.21" width="15.75" height="15.43" fill="#210c4a"/>
<rect x="247.28" y="245.21" width="15.75" height="15.43" fill="#2f0a5b"/>
<rect x="262.32" y="245.21" width="15.75" height="15.43" fill="#320a5e"/>
<rect x="277.38" y="245.21" width="15.75" height="15.43" fill="#260c51"/>
<rect x="292.43" y="245.21" width="15.75" height="15.43" fill="#140b34"/>
<rect x="307.48" y="245.21" width="15.75" height="15.43" fill="#010108"/>
<rect x="187.07" y="259.94" width="15.75" height="15.43" fill="#000004"/>
<rect x="202.12" y="259.94" width="15.75" height="15.43" fill="#040312"/>
<rect x="217.18" y="259.94" width="15.75" height="15.43" fill="#110a30"/>
<rect x="232.22" y="259.94" width="15.75" height="15.43" fill="#1e0c45"/>
<rect x="247.28" y="259.94" width="15.75" height="15.43" fill="#210c4a"/>
<rect x="262.32" y="259.94" width="15.75" height="15.43" fill="#1b0c41"/>
<rect x="277.38" y="259.94" width="15.75" height="15.43" fill="#0e092b"/>
<rect x="292.43" y="259.94" width="15.75" height="15.43" fill="#040312"/>
<rect x="307.48" y="259.94" width="15.75" height="15.43" fill="#000004"/>
<polyline points="247.5,149.4 247.3,151.4 247.9,153.4 247.6,155.4 248.0,157.4 248.6,159.4 249.0,161.3 249.3,163.3 249.0,165.4 249.3,167.4 249.6,169.4 249.9,171.4 251.0,173.2 251.1,175.3 251.0,177.3 251.8,179.2 252.1,181.2 252.7,183.1 253.0,185.1 253.3,187.1 253.6,189.1 254.3,191.0 254.8,192.9 255.0,195.0 256.1,196.7 256.4,198.7 257.5,200.5 258.3,202.3 259.3,204.1 260.1,205.9 260.7,207.9 262.2,209.3 263.3,211.0 264.9,212.3 266.4,213.5 267.6,215.3 269.4,216.2 271.1,217.2 273.0,217.8 274.9,218.1 276.8,218.8 278.8,219.2 280.7,218.3 282.6,218.1 284.3,217.1 286.1,216.1 287.9,215.2 289.7,214.4 291.6,213.6 293.3,212.6 295.5,212.4 297.1,211.1 299.0,210.4 300.7,209.3 302.1,207.8 303.8,206.7 305.6,205.8 307.4,204.9 308.8,203.4 310.5,202.3 311.9,200.8 313.7,199.9 315.3,198.6" fill="none" stroke="#ff0008" stroke-opacity="0.82" stroke-width="1.25" stroke-linejoin="round"/>
<path d="M278.8 218.0L291.0 230.2M278.8 230.2L291.0 218.0" stroke="#fff" stroke-width="0.9" fill="none"/>
</g>
<rect x="194.6" y="149.5" width="120.40" height="117.80" fill="none" stroke="#666" stroke-width="0.45"/>
<path d="M194.4 149.6H315.2" stroke="#444" stroke-width="0.8" fill="none"/>
<text class="lab" x="281.3" y="258.7" text-anchor="middle" style="fill:#fff;stroke:#fff;stroke-width:0.3px">E</text>
<g clip-path="url(#clF)">
<rect x="365.6" y="149.5" width="120.10" height="117.80" fill="#f7f7f6"/>
<rect x="358.09" y="142.14" width="15.71" height="15.43" fill="#fbd9ec"/>
<rect x="373.11" y="142.14" width="15.71" height="15.43" fill="#f9d3e8"/>
<rect x="388.12" y="142.14" width="15.71" height="15.43" fill="#f8f5f6"/>
<rect x="403.13" y="142.14" width="15.71" height="15.43" fill="#f3f7ef"/>
<rect x="418.14" y="142.14" width="15.71" height="15.43" fill="#cdeaa7"/>
<rect x="433.16" y="142.14" width="15.71" height="15.43" fill="#3c7d1d"/>
<rect x="448.17" y="142.14" width="15.71" height="15.43" fill="#37781c"/>
<rect x="463.18" y="142.14" width="15.71" height="15.43" fill="#36761c"/>
<rect x="478.19" y="142.14" width="15.71" height="15.43" fill="#3c7d1d"/>
<rect x="358.09" y="156.86" width="15.71" height="15.43" fill="#ea9fca"/>
<rect x="373.11" y="156.86" width="15.71" height="15.43" fill="#276419"/>
<rect x="388.12" y="156.86" width="15.71" height="15.43" fill="#f8f5f6"/>
<rect x="403.13" y="156.86" width="15.71" height="15.43" fill="#f3f7ef"/>
<rect x="418.14" y="156.86" width="15.71" height="15.43" fill="#d4edb3"/>
<rect x="433.16" y="156.86" width="15.71" height="15.43" fill="#4e9322"/>
<rect x="448.17" y="156.86" width="15.71" height="15.43" fill="#37781c"/>
<rect x="463.18" y="156.86" width="15.71" height="15.43" fill="#37781c"/>
<rect x="478.19" y="156.86" width="15.71" height="15.43" fill="#40831e"/>
<rect x="358.09" y="171.59" width="15.71" height="15.43" fill="#fde0ef"/>
<rect x="373.11" y="171.59" width="15.71" height="15.43" fill="#d9f0bc"/>
<rect x="388.12" y="171.59" width="15.71" height="15.43" fill="#f8f4f6"/>
<rect x="403.13" y="171.59" width="15.71" height="15.43" fill="#f3f7ef"/>
<rect x="418.14" y="171.59" width="15.71" height="15.43" fill="#dff2c4"/>
<rect x="433.16" y="171.59" width="15.71" height="15.43" fill="#7fbc41"/>
<rect x="448.17" y="171.59" width="15.71" height="15.43" fill="#4c9121"/>
<rect x="463.18" y="171.59" width="15.71" height="15.43" fill="#4e9322"/>
<rect x="478.19" y="171.59" width="15.71" height="15.43" fill="#75b43b"/>
<rect x="358.09" y="186.31" width="15.71" height="15.43" fill="#f3f6ed"/>
<rect x="373.11" y="186.31" width="15.71" height="15.43" fill="#f5c4e1"/>
<rect x="388.12" y="186.31" width="15.71" height="15.43" fill="#f1f6ea"/>
<rect x="403.13" y="186.31" width="15.71" height="15.43" fill="#f2f6ec"/>
<rect x="418.14" y="186.31" width="15.71" height="15.43" fill="#e6f5d0"/>
<rect x="433.16" y="186.31" width="15.71" height="15.43" fill="#b5df82"/>
<rect x="448.17" y="186.31" width="15.71" height="15.43" fill="#7fbc41"/>
<rect x="463.18" y="186.31" width="15.71" height="15.43" fill="#83bf46"/>
<rect x="478.19" y="186.31" width="15.71" height="15.43" fill="#b7e085"/>
<rect x="358.09" y="201.04" width="15.71" height="15.43" fill="#f9eef4"/>
<rect x="373.11" y="201.04" width="15.71" height="15.43" fill="#f6c7e3"/>
<rect x="388.12" y="201.04" width="15.71" height="15.43" fill="#f5f7f2"/>
<rect x="403.13" y="201.04" width="15.71" height="15.43" fill="#f2f6ec"/>
<rect x="418.14" y="201.04" width="15.71" height="15.43" fill="#e6f5d0"/>
<rect x="433.16" y="201.04" width="15.71" height="15.43" fill="#cbe9a4"/>
<rect x="448.17" y="201.04" width="15.71" height="15.43" fill="#b2dd7f"/>
<rect x="463.18" y="201.04" width="15.71" height="15.43" fill="#bee490"/>
<rect x="478.19" y="201.04" width="15.71" height="15.43" fill="#d0ecad"/>
<rect x="358.09" y="215.76" width="15.71" height="15.43" fill="#fbe7f2"/>
<rect x="373.11" y="215.76" width="15.71" height="15.43" fill="#f7cbe4"/>
<rect x="388.12" y="215.76" width="15.71" height="15.43" fill="#f5f7f3"/>
<rect x="403.13" y="215.76" width="15.71" height="15.43" fill="#f3f7ef"/>
<rect x="418.14" y="215.76" width="15.71" height="15.43" fill="#edf6e1"/>
<rect x="433.16" y="215.76" width="15.71" height="15.43" fill="#e1f3c7"/>
<rect x="448.17" y="215.76" width="15.71" height="15.43" fill="#d9f0bc"/>
<rect x="463.18" y="215.76" width="15.71" height="15.43" fill="#dff2c4"/>
<rect x="478.19" y="215.76" width="15.71" height="15.43" fill="#e9f5d6"/>
<rect x="358.09" y="230.49" width="15.71" height="15.43" fill="#f9f1f5"/>
<rect x="373.11" y="230.49" width="15.71" height="15.43" fill="#fce4f0"/>
<rect x="388.12" y="230.49" width="15.71" height="15.43" fill="#f6f7f5"/>
<rect x="403.13" y="230.49" width="15.71" height="15.43" fill="#f5f7f2"/>
<rect x="418.14" y="230.49" width="15.71" height="15.43" fill="#f1f6ea"/>
<rect x="433.16" y="230.49" width="15.71" height="15.43" fill="#edf6df"/>
<rect x="448.17" y="230.49" width="15.71" height="15.43" fill="#ebf6dc"/>
<rect x="463.18" y="230.49" width="15.71" height="15.43" fill="#edf6e1"/>
<rect x="478.19" y="230.49" width="15.71" height="15.43" fill="#f0f6e7"/>
<rect x="358.09" y="245.21" width="15.71" height="15.43" fill="#f5f7f2"/>
<rect x="373.11" y="245.21" width="15.71" height="15.43" fill="#fbe9f2"/>
<rect x="388.12" y="245.21" width="15.71" height="15.43" fill="#f7f7f6"/>
<rect x="403.13" y="245.21" width="15.71" height="15.43" fill="#f6f7f5"/>
<rect x="418.14" y="245.21" width="15.71" height="15.43" fill="#f5f7f2"/>
<rect x="433.16" y="245.21" width="15.71" height="15.43" fill="#f3f6ed"/>
<rect x="448.17" y="245.21" width="15.71" height="15.43" fill="#f1f6ea"/>
<rect x="463.18" y="245.21" width="15.71" height="15.43" fill="#f3f6ed"/>
<rect x="478.19" y="245.21" width="15.71" height="15.43" fill="#f5f7f2"/>
<rect x="358.09" y="259.94" width="15.71" height="15.43" fill="#e6f5d0"/>
<rect x="373.11" y="259.94" width="15.71" height="15.43" fill="#fad6ea"/>
<rect x="388.12" y="259.94" width="15.71" height="15.43" fill="#f7f7f6"/>
<rect x="403.13" y="259.94" width="15.71" height="15.43" fill="#f7f7f6"/>
<rect x="418.14" y="259.94" width="15.71" height="15.43" fill="#f6f7f5"/>
<rect x="433.16" y="259.94" width="15.71" height="15.43" fill="#f5f7f3"/>
<rect x="448.17" y="259.94" width="15.71" height="15.43" fill="#f5f7f3"/>
<rect x="463.18" y="259.94" width="15.71" height="15.43" fill="#f5f7f3"/>
<rect x="478.19" y="259.94" width="15.71" height="15.43" fill="#f6f7f5"/>
<polyline points="418.0,149.4 417.8,151.4 418.2,153.4 418.0,155.5 418.8,157.4 419.2,159.4 418.8,161.5 419.5,163.4 419.7,165.4 420.1,167.4 420.5,169.3 420.9,171.3 421.0,173.3 421.6,175.3 422.2,177.2 421.9,179.3 422.8,181.2 423.2,183.1 423.1,185.2 424.1,187.1 424.4,189.1 424.2,191.2 424.6,193.1 425.2,195.1 426.7,196.7 427.6,198.5 427.6,200.6 428.6,202.4 429.8,204.1 430.7,205.8 431.6,207.6 432.7,209.3 433.6,211.2 434.9,212.7 436.5,214.0 438.4,214.8 440.0,216.0 441.8,216.8 443.5,217.8 445.3,218.4 447.2,219.3 449.2,218.7 451.2,218.6 453.0,217.8 455.1,217.7 456.7,216.2 458.7,215.9 460.2,214.3 462.1,213.6 464.1,213.2 465.6,211.8 467.4,210.9 469.2,209.9 471.0,209.0 472.5,207.6 474.2,206.5 475.8,205.4 477.7,204.5 479.5,203.7 481.3,202.6 482.6,201.1 484.3,199.9 485.8,198.6" fill="none" stroke="#ff0008" stroke-opacity="0.82" stroke-width="1.25" stroke-linejoin="round"/>
<path d="M449.2 217.9L461.4 230.1M449.2 230.1L461.4 217.9" stroke="#000" stroke-width="0.9" fill="none"/>
</g>
<rect x="365.6" y="149.5" width="120.10" height="117.80" fill="none" stroke="#666" stroke-width="0.45"/>
<path d="M365.40000000000003 149.6H485.9" stroke="#444" stroke-width="0.8" fill="none"/>
<text class="lab" x="451.8" y="258.7" text-anchor="middle" style="fill:#000;stroke:#000;stroke-width:0.3px">F</text>
<defs><linearGradient id="gi7" gradientUnits="userSpaceOnUse" x1="0" y1="125.8" x2="0" y2="13.9"><stop offset="0.0000" stop-color="#000004"/><stop offset="0.0312" stop-color="#040312"/><stop offset="0.0625" stop-color="#0b0724"/><stop offset="0.0938" stop-color="#150b37"/><stop offset="0.1250" stop-color="#210c4a"/><stop offset="0.1562" stop-color="#2f0a5b"/><stop offset="0.1875" stop-color="#3d0965"/><stop offset="0.2188" stop-color="#4a0c6b"/><stop offset="0.2500" stop-color="#57106e"/><stop offset="0.2812" stop-color="#64156e"/><stop offset="0.3125" stop-color="#71196e"/><stop offset="0.3438" stop-color="#7d1e6d"/><stop offset="0.3750" stop-color="#8a226a"/><stop offset="0.4062" stop-color="#972766"/><stop offset="0.4375" stop-color="#a32c61"/><stop offset="0.4688" stop-color="#b0315b"/><stop offset="0.5000" stop-color="#bc3754"/><stop offset="0.5312" stop-color="#c73e4c"/><stop offset="0.5625" stop-color="#d24644"/><stop offset="0.5938" stop-color="#db503b"/><stop offset="0.6250" stop-color="#e45a31"/><stop offset="0.6562" stop-color="#eb6628"/><stop offset="0.6875" stop-color="#f1731d"/><stop offset="0.7188" stop-color="#f68013"/><stop offset="0.7500" stop-color="#f98e09"/><stop offset="0.7812" stop-color="#fb9d07"/><stop offset="0.8125" stop-color="#fcac11"/><stop offset="0.8438" stop-color="#fbbc21"/><stop offset="0.8750" stop-color="#f9cb35"/><stop offset="0.9062" stop-color="#f5db4c"/><stop offset="0.9375" stop-color="#f2ea69"/><stop offset="0.9688" stop-color="#f3f68a"/><stop offset="1.0000" stop-color="#fcffa4"/></linearGradient>
<linearGradient id="gp7" gradientUnits="userSpaceOnUse" x1="0" y1="119.89999999999999" x2="0" y2="13.9"><stop offset="0.0000" stop-color="#8e0152"/><stop offset="0.0312" stop-color="#9f095f"/><stop offset="0.0625" stop-color="#b1116d"/><stop offset="0.0938" stop-color="#c2197a"/><stop offset="0.1250" stop-color="#cb3289"/><stop offset="0.1562" stop-color="#d34f99"/><stop offset="0.1875" stop-color="#db6ca8"/><stop offset="0.2188" stop-color="#e283b7"/><stop offset="0.2500" stop-color="#e897c4"/><stop offset="0.2812" stop-color="#eeabd2"/><stop offset="0.3125" stop-color="#f3bcdd"/><stop offset="0.3438" stop-color="#f6c9e3"/><stop offset="0.3750" stop-color="#fad6ea"/><stop offset="0.4062" stop-color="#fde2f0"/><stop offset="0.4375" stop-color="#fbe9f2"/><stop offset="0.4688" stop-color="#f9f0f5"/><stop offset="0.5000" stop-color="#f7f7f6"/><stop offset="0.5312" stop-color="#f1f6ea"/><stop offset="0.5625" stop-color="#ecf6de"/><stop offset="0.5938" stop-color="#e7f5d2"/><stop offset="0.6250" stop-color="#d9f0bc"/><stop offset="0.6562" stop-color="#cbe9a4"/><stop offset="0.6875" stop-color="#bde38d"/><stop offset="0.7188" stop-color="#acd977"/><stop offset="0.7500" stop-color="#9acd61"/><stop offset="0.7812" stop-color="#88c24c"/><stop offset="0.8125" stop-color="#77b53c"/><stop offset="0.8438" stop-color="#67a832"/><stop offset="0.8750" stop-color="#589b28"/><stop offset="0.9062" stop-color="#498d20"/><stop offset="0.9375" stop-color="#3d7f1e"/><stop offset="0.9688" stop-color="#31711b"/><stop offset="1.0000" stop-color="#276419"/></linearGradient></defs>
<defs><linearGradient id="gi149" gradientUnits="userSpaceOnUse" x1="0" y1="267.3" x2="0" y2="155.9"><stop offset="0.0000" stop-color="#000004"/><stop offset="0.0312" stop-color="#040312"/><stop offset="0.0625" stop-color="#0b0724"/><stop offset="0.0938" stop-color="#150b37"/><stop offset="0.1250" stop-color="#210c4a"/><stop offset="0.1562" stop-color="#2f0a5b"/><stop offset="0.1875" stop-color="#3d0965"/><stop offset="0.2188" stop-color="#4a0c6b"/><stop offset="0.2500" stop-color="#57106e"/><stop offset="0.2812" stop-color="#64156e"/><stop offset="0.3125" stop-color="#71196e"/><stop offset="0.3438" stop-color="#7d1e6d"/><stop offset="0.3750" stop-color="#8a226a"/><stop offset="0.4062" stop-color="#972766"/><stop offset="0.4375" stop-color="#a32c61"/><stop offset="0.4688" stop-color="#b0315b"/><stop offset="0.5000" stop-color="#bc3754"/><stop offset="0.5312" stop-color="#c73e4c"/><stop offset="0.5625" stop-color="#d24644"/><stop offset="0.5938" stop-color="#db503b"/><stop offset="0.6250" stop-color="#e45a31"/><stop offset="0.6562" stop-color="#eb6628"/><stop offset="0.6875" stop-color="#f1731d"/><stop offset="0.7188" stop-color="#f68013"/><stop offset="0.7500" stop-color="#f98e09"/><stop offset="0.7812" stop-color="#fb9d07"/><stop offset="0.8125" stop-color="#fcac11"/><stop offset="0.8438" stop-color="#fbbc21"/><stop offset="0.8750" stop-color="#f9cb35"/><stop offset="0.9062" stop-color="#f5db4c"/><stop offset="0.9375" stop-color="#f2ea69"/><stop offset="0.9688" stop-color="#f3f68a"/><stop offset="1.0000" stop-color="#fcffa4"/></linearGradient>
<linearGradient id="gp149" gradientUnits="userSpaceOnUse" x1="0" y1="261.40000000000003" x2="0" y2="155.9"><stop offset="0.0000" stop-color="#8e0152"/><stop offset="0.0312" stop-color="#9f095f"/><stop offset="0.0625" stop-color="#b1116d"/><stop offset="0.0938" stop-color="#c2197a"/><stop offset="0.1250" stop-color="#cb3289"/><stop offset="0.1562" stop-color="#d34f99"/><stop offset="0.1875" stop-color="#db6ca8"/><stop offset="0.2188" stop-color="#e283b7"/><stop offset="0.2500" stop-color="#e897c4"/><stop offset="0.2812" stop-color="#eeabd2"/><stop offset="0.3125" stop-color="#f3bcdd"/><stop offset="0.3438" stop-color="#f6c9e3"/><stop offset="0.3750" stop-color="#fad6ea"/><stop offset="0.4062" stop-color="#fde2f0"/><stop offset="0.4375" stop-color="#fbe9f2"/><stop offset="0.4688" stop-color="#f9f0f5"/><stop offset="0.5000" stop-color="#f7f7f6"/><stop offset="0.5312" stop-color="#f1f6ea"/><stop offset="0.5625" stop-color="#ecf6de"/><stop offset="0.5938" stop-color="#e7f5d2"/><stop offset="0.6250" stop-color="#d9f0bc"/><stop offset="0.6562" stop-color="#cbe9a4"/><stop offset="0.6875" stop-color="#bde38d"/><stop offset="0.7188" stop-color="#acd977"/><stop offset="0.7500" stop-color="#9acd61"/><stop offset="0.7812" stop-color="#88c24c"/><stop offset="0.8125" stop-color="#77b53c"/><stop offset="0.8438" stop-color="#67a832"/><stop offset="0.8750" stop-color="#589b28"/><stop offset="0.9062" stop-color="#498d20"/><stop offset="0.9375" stop-color="#3d7f1e"/><stop offset="0.9688" stop-color="#31711b"/><stop offset="1.0000" stop-color="#276419"/></linearGradient></defs>
<path d="M160.2 125.8L160.2 13.9L164.2 8.1L168.2 13.9L168.2 125.8Z" fill="url(#gi7)" stroke="#666" stroke-width="0.35"/>
<path d="M330.6 125.8L330.6 13.9L334.6 8.1L338.6 13.9L338.6 125.8Z" fill="url(#gi7)" stroke="#666" stroke-width="0.35"/>
<path d="M501.3 119.89999999999999L501.3 13.9L505.3 8.1L509.3 13.9L509.3 119.89999999999999L505.3 125.89999999999999Z" fill="url(#gp7)" stroke="#666" stroke-width="0.35"/>
<path d="M160.2 267.3L160.2 155.9L164.2 150.1L168.2 155.9L168.2 267.3Z" fill="url(#gi149)" stroke="#666" stroke-width="0.35"/>
<path d="M330.6 267.3L330.6 155.9L334.6 150.1L338.6 155.9L338.6 267.3Z" fill="url(#gi149)" stroke="#666" stroke-width="0.35"/>
<path d="M501.3 261.40000000000003L501.3 155.9L505.3 150.1L509.3 155.9L509.3 261.40000000000003L505.3 267.40000000000003Z" fill="url(#gp149)" stroke="#666" stroke-width="0.35"/>
<path d="M160.2 125.8h1.4" stroke="#222" stroke-width="0.4"/>
<text class="c" x="159.2" y="127.9" text-anchor="end">0</text>
<path d="M160.2 82.8h1.4" stroke="#222" stroke-width="0.4"/>
<text class="c" x="159.2" y="84.9" text-anchor="end">0.5</text>
<path d="M160.2 39.7h1.4" stroke="#222" stroke-width="0.4"/>
<text class="c" x="159.2" y="41.8" text-anchor="end">1</text>
<path d="M330.6 125.8h1.4" stroke="#222" stroke-width="0.4"/>
<text class="c" x="329.6" y="127.9" text-anchor="end">0</text>
<path d="M330.6 81.0h1.4" stroke="#222" stroke-width="0.4"/>
<text class="c" x="329.6" y="83.1" text-anchor="end">0.06</text>
<path d="M330.6 36.3h1.4" stroke="#222" stroke-width="0.4"/>
<text class="c" x="329.6" y="38.4" text-anchor="end">0.12</text>
<path d="M501.3 119.9h1.4" stroke="#222" stroke-width="0.4"/>
<text class="c" x="500.2" y="122.0" text-anchor="end">-0.05</text>
<path d="M501.3 66.9h1.4" stroke="#222" stroke-width="0.4"/>
<text class="c" x="500.2" y="69.0" text-anchor="end">0</text>
<path d="M501.3 13.9h1.4" stroke="#222" stroke-width="0.4"/>
<text class="c" x="500.2" y="16.0" text-anchor="end">0.05</text>
<text class="ti" x="145.8" y="5.2">γ(v<tspan dy="1.3" font-size="4.6">th,r</tspan><tspan dy="-1.3">/r</tspan><tspan dy="1.3" font-size="4.6">LCFS</tspan><tspan dy="-1.3">)</tspan></text>
<text class="ti" x="316.2" y="5.2">γ(v<tspan dy="1.3" font-size="4.6">th,r</tspan><tspan dy="-1.3">/r</tspan><tspan dy="1.3" font-size="4.6">LCFS</tspan><tspan dy="-1.3">)</tspan></text>
<text class="ti" x="484.6" y="5.2">ω(v<tspan dy="1.3" font-size="4.6">th,r</tspan><tspan dy="-1.3">/r</tspan><tspan dy="1.3" font-size="4.6">LCFS</tspan><tspan dy="-1.3">)</tspan></text>
<path d="M160.2 267.3h1.4" stroke="#222" stroke-width="0.4"/>
<text class="c" x="159.2" y="269.4" text-anchor="end">0</text>
<path d="M160.2 224.5h1.4" stroke="#222" stroke-width="0.4"/>
<text class="c" x="159.2" y="226.6" text-anchor="end">0.5</text>
<path d="M160.2 181.6h1.4" stroke="#222" stroke-width="0.4"/>
<text class="c" x="159.2" y="183.7" text-anchor="end">1</text>
<path d="M330.6 267.3h1.4" stroke="#222" stroke-width="0.4"/>
<text class="c" x="329.6" y="269.4" text-anchor="end">0</text>
<path d="M330.6 222.7h1.4" stroke="#222" stroke-width="0.4"/>
<text class="c" x="329.6" y="224.8" text-anchor="end">0.06</text>
<path d="M330.6 178.2h1.4" stroke="#222" stroke-width="0.4"/>
<text class="c" x="329.6" y="180.3" text-anchor="end">0.12</text>
<path d="M501.3 261.4h1.4" stroke="#222" stroke-width="0.4"/>
<text class="c" x="500.2" y="263.5" text-anchor="end">-0.05</text>
<path d="M501.3 208.7h1.4" stroke="#222" stroke-width="0.4"/>
<text class="c" x="500.2" y="210.8" text-anchor="end">0</text>
<path d="M501.3 155.9h1.4" stroke="#222" stroke-width="0.4"/>
<text class="c" x="500.2" y="158.0" text-anchor="end">0.05</text>
<text class="ti" x="145.8" y="147.2">γ(v<tspan dy="1.3" font-size="4.6">th,r</tspan><tspan dy="-1.3">/r</tspan><tspan dy="1.3" font-size="4.6">LCFS</tspan><tspan dy="-1.3">)</tspan></text>
<text class="ti" x="316.2" y="147.2">γ(v<tspan dy="1.3" font-size="4.6">th,r</tspan><tspan dy="-1.3">/r</tspan><tspan dy="1.3" font-size="4.6">LCFS</tspan><tspan dy="-1.3">)</tspan></text>
<text class="ti" x="484.6" y="147.2">ω(v<tspan dy="1.3" font-size="4.6">th,r</tspan><tspan dy="-1.3">/r</tspan><tspan dy="1.3" font-size="4.6">LCFS</tspan><tspan dy="-1.3">)</tspan></text>
<text class="t" x="23.8" y="133.8" text-anchor="middle">0</text>
<text class="t" x="64.0" y="133.8" text-anchor="middle">0.5</text>
<text class="t" x="104.3" y="133.8" text-anchor="middle">1</text>
<text class="t" x="144.5" y="133.8" text-anchor="middle">1.5</text>
<text class="t" x="194.2" y="133.8" text-anchor="middle">0</text>
<text class="t" x="254.4" y="133.8" text-anchor="middle">0.4</text>
<text class="t" x="314.6" y="133.8" text-anchor="middle">0.8</text>
<text class="t" x="365.2" y="133.8" text-anchor="middle">0</text>
<text class="t" x="425.2" y="133.8" text-anchor="middle">0.4</text>
<text class="t" x="485.3" y="133.8" text-anchor="middle">0.8</text>
<text class="t" x="22.4" y="129.1" text-anchor="end">0</text>
<text class="t" x="22.4" y="70.1" text-anchor="end">3</text>
<text class="t" x="22.4" y="11.2" text-anchor="end">6</text>
<text class="t" x="23.8" y="275.5" text-anchor="middle">0</text>
<text class="t" x="64.0" y="275.5" text-anchor="middle">0.5</text>
<text class="t" x="104.3" y="275.5" text-anchor="middle">1</text>
<text class="t" x="144.5" y="275.5" text-anchor="middle">1.5</text>
<text class="t" x="194.2" y="275.5" text-anchor="middle">0</text>
<text class="t" x="254.4" y="275.5" text-anchor="middle">0.4</text>
<text class="t" x="314.6" y="275.5" text-anchor="middle">0.8</text>
<text class="t" x="365.2" y="275.5" text-anchor="middle">0</text>
<text class="t" x="425.2" y="275.5" text-anchor="middle">0.4</text>
<text class="t" x="485.3" y="275.5" text-anchor="middle">0.8</text>
<text class="t" x="22.4" y="270.8" text-anchor="end">0</text>
<text class="t" x="22.4" y="212.0" text-anchor="end">3</text>
<text class="t" x="22.4" y="153.2" text-anchor="end">6</text>
<text class="t" x="192.8" y="129.1" text-anchor="end">0</text>
<text class="t" x="192.8" y="89.8" text-anchor="end">0.5</text>
<text class="t" x="192.8" y="50.5" text-anchor="end">1</text>
<text class="t" x="192.8" y="11.2" text-anchor="end">1.5</text>
<text class="t" x="363.8" y="129.1" text-anchor="end">0</text>
<text class="t" x="363.8" y="89.8" text-anchor="end">0.5</text>
<text class="t" x="363.8" y="50.5" text-anchor="end">1</text>
<text class="t" x="363.8" y="11.2" text-anchor="end">1.5</text>
<text class="t" x="192.8" y="270.8" text-anchor="end">0</text>
<text class="t" x="192.8" y="212.0" text-anchor="end">0.5</text>
<text class="t" x="192.8" y="153.2" text-anchor="end">1</text>
<text class="t" x="363.8" y="270.8" text-anchor="end">0</text>
<text class="t" x="363.8" y="212.0" text-anchor="end">0.5</text>
<text class="t" x="363.8" y="153.2" text-anchor="end">1</text>
<text class="ax" font-size="13.5" x="84.0" y="288.8" text-anchor="middle">α</text>
<text class="ax" font-size="13.5" x="254.2" y="288.8" text-anchor="middle">α</text>
<text class="ax" font-size="13.5" x="425.0" y="288.8" text-anchor="middle">α</text>
<text class="ax" font-size="11" transform="translate(13.0 67.1) rotate(-90)" text-anchor="middle">Ŝ</text>
<text class="ax" font-size="11" transform="translate(13.0 208.8) rotate(-90)" text-anchor="middle">Ŝ</text>
</svg></body></html>
